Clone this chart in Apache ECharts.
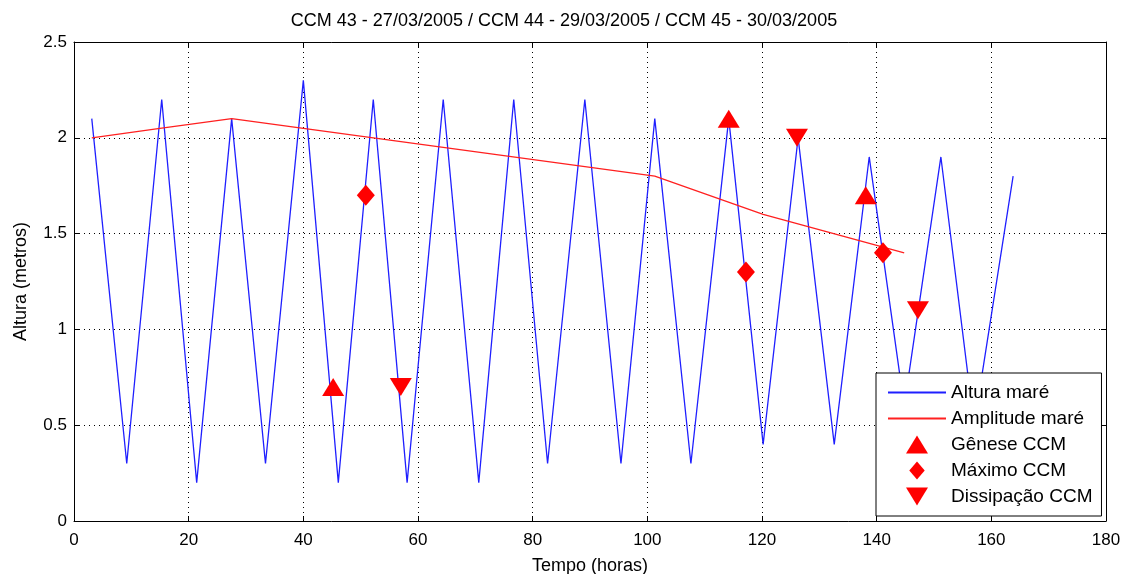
<!DOCTYPE html>
<html>
<head>
<meta charset="utf-8">
<script src="https://cdn.jsdelivr.net/npm/echarts@6/dist/echarts.min.js"></script>
<style>
  html, body { margin: 0; padding: 0; background: #fff; }
  #chart { width: 1128px; height: 574px; }
</style>
</head>
<body>
<div id="chart"></div>
<script>
// ---- data ----
var titleText = 'CCM 43 - 27/03/2005 / CCM 44 - 29/03/2005 / CCM 45 - 30/03/2005';
var xTicks = [0, 20, 40, 60, 80, 100, 120, 140, 160, 180];
var yTicks = [0, 0.5, 1, 1.5, 2, 2.5];

// Altura maré (tide height): time in hours, height in metres
var tideTime   = [3.1, 9.2, 15.3, 21.4, 27.5, 33.4, 40.0, 46.1, 52.2, 58.1, 64.4, 70.6, 76.7, 82.6, 89.1, 95.4, 101.3, 107.6, 114.2, 120.2, 126.3, 132.6, 138.7, 144.8, 151.2, 157.0, 163.8];
var tideHeight = [2.1, 0.3, 2.2, 0.2, 2.1, 0.3, 2.3, 0.2, 2.2, 0.2, 2.2, 0.2, 2.2, 0.3, 2.2, 0.3, 2.1, 0.3, 2.1, 0.4, 2.0, 0.4, 1.9, 0.6, 1.9, 0.5, 1.8];

// Amplitude maré
var ampTime  = [3.1, 15.3, 27.5, 101.3, 120.2, 144.8];
var ampValue = [2.0, 2.05, 2.1, 1.8, 1.6, 1.4];

// CCM events
var geneseTime  = [45.2, 114.2, 138.1];
var geneseValue = [0.7, 2.1, 1.7];
var maximoTime  = [50.9, 117.2, 141.1];
var maximoValue = [1.7, 1.3, 1.4];
var dissipTime  = [57.0, 126.1, 147.2];
var dissipValue = [0.7, 2.0, 1.1];

var seriesNames = ['Altura maré', 'Amplitude maré', 'Gênese CCM', 'Máximo CCM', 'Dissipação CCM'];

function zip(a, b) { return a.map(function (v, i) { return [v, b[i]]; }); }

var FONT = 'Liberation Sans, Arial, sans-serif';
var triUp = 'path://M0,18L11,0L22,18Z';
var triDown = 'path://M0,0L22,0L11,18Z';
var diamond = 'path://M9,0L18,10.5L9,21L0,10.5Z';

var chart = echarts.init(document.getElementById('chart'), null, { renderer: 'canvas' });

var gridLine = { show: true, lineStyle: { color: '#000', width: 1, type: [1, 4] } };

var legendData = seriesNames.map(function (n, i) {
  return i < 2 ? { name: n, itemStyle: { opacity: 0 } } : { name: n };
});

chart.setOption({
  animation: false,
  backgroundColor: '#fff',
  textStyle: { fontFamily: FONT, color: '#000' },
  title: {
    text: titleText,
    left: 'center',
    top: 7,
    textStyle: { fontFamily: FONT, fontSize: 18, fontWeight: 'normal', color: '#000' }
  },
  grid: { left: 74, right: 22, top: 42, bottom: 53, containLabel: false, outerBoundsMode: 'none' },
  legend: {
    orient: 'vertical',
    left: 876,
    top: 373,
    data: legendData,
    itemWidth: 58,
    itemHeight: 18,
    itemGap: 7,
    padding: [10, 9, 10, 11],
    backgroundColor: '#fff',
    borderColor: '#000',
    borderWidth: 1,
    borderRadius: 0,
    symbolKeepAspect: true,
    textStyle: { fontFamily: FONT, fontSize: 19, color: '#000' }
  },
  xAxis: [{
    type: 'value', min: xTicks[0], max: xTicks[xTicks.length - 1], interval: 20,
    position: 'bottom',
    name: 'Tempo (horas)', nameLocation: 'middle', nameGap: 36,
    nameTextStyle: { fontFamily: FONT, fontSize: 18, color: '#000' },
    axisLine: { show: true, onZero: false, lineStyle: { color: '#000', width: 1 } },
    axisTick: { show: true, inside: true, length: 5, lineStyle: { color: '#000' } },
    axisLabel: { fontFamily: FONT, fontSize: 17, color: '#000', margin: 11 },
    splitLine: gridLine
  }, {
    type: 'value', min: xTicks[0], max: xTicks[xTicks.length - 1], interval: 20,
    position: 'top',
    axisLine: { show: true, onZero: false, lineStyle: { color: '#000', width: 1 } },
    axisTick: { show: true, inside: true, length: 5, lineStyle: { color: '#000' } },
    axisLabel: { show: false },
    splitLine: { show: false }
  }],
  yAxis: [{
    type: 'value', min: yTicks[0], max: yTicks[yTicks.length - 1], interval: 0.5,
    position: 'left',
    name: 'Altura (metros)', nameLocation: 'middle', nameGap: 44,
    nameTextStyle: { fontFamily: FONT, fontSize: 18, color: '#000' },
    axisLine: { show: true, onZero: false, lineStyle: { color: '#000', width: 1 } },
    axisTick: { show: true, inside: true, length: 5, lineStyle: { color: '#000' } },
    axisLabel: { fontFamily: FONT, fontSize: 17, color: '#000', margin: 7 },
    splitLine: gridLine
  }, {
    type: 'value', min: yTicks[0], max: yTicks[yTicks.length - 1], interval: 0.5,
    position: 'right',
    axisLine: { show: true, onZero: false, lineStyle: { color: '#000', width: 1 } },
    axisTick: { show: true, inside: true, length: 5, lineStyle: { color: '#000' } },
    axisLabel: { show: false },
    splitLine: { show: false }
  }],
  series: [{
    name: seriesNames[0],
    type: 'line',
    data: zip(tideTime, tideHeight),
    symbol: 'none',
    color: '#1f1fff',
    lineStyle: { color: '#1f1fff', width: 1.3 },
    z: 2
  }, {
    name: seriesNames[1],
    type: 'line',
    data: zip(ampTime, ampValue),
    symbol: 'none',
    color: '#ff2020',
    lineStyle: { color: '#ff2020', width: 1.3 },
    z: 3
  }, {
    name: seriesNames[2],
    type: 'scatter',
    data: zip(geneseTime, geneseValue),
    symbol: triUp,
    symbolSize: [22, 18],
    itemStyle: { color: '#ff0000', opacity: 1 },
    z: 4
  }, {
    name: seriesNames[3],
    type: 'scatter',
    data: zip(maximoTime, maximoValue),
    symbol: diamond,
    symbolSize: [18, 21],
    itemStyle: { color: '#ff0000', opacity: 1 },
    z: 4
  }, {
    name: seriesNames[4],
    type: 'scatter',
    data: zip(dissipTime, dissipValue),
    symbol: triDown,
    symbolSize: [22, 18],
    itemStyle: { color: '#ff0000', opacity: 1 },
    z: 4
  }]
});
</script>
</body>
</html>
